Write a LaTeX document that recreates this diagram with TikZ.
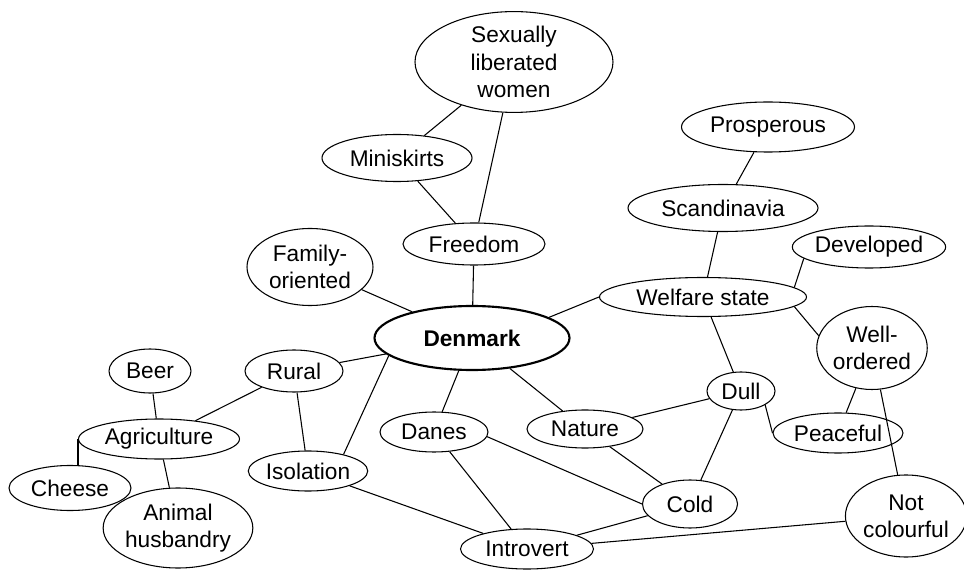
\documentclass[tikz,border=0pt]{standalone}
\usepackage{fontspec}
\setmainfont{Liberation Sans}
\usetikzlibrary{shapes.geometric}

\begin{document}
\begin{tikzpicture}[x=0.75pt, y=-0.75pt,
        concept/.style={ellipse, draw, line width=0.8pt, inner sep=0pt, align=center,
            font=\fontsize{17}{20.5}\selectfont},
        dims/.style 2 args={minimum width=#1*0.75pt, minimum height=#2*0.75pt},
        link/.style={line width=0.8pt}]
        \useasboundingbox (0,0) rectangle (964,570);

        % Centre
        \node[concept, dims={195}{64}, line width=1.6pt, font=\fontsize{17}{20.5}\selectfont\bfseries] (denmark) at (472,338) {Denmark};

        % Upper branch
        \node[concept, dims={198}{97}] (sexwomen) at (514,62) {Sexually\\liberated\\women};
        \node[concept, dims={150}{47}] (miniskirts) at (397,158) {Miniskirts};
        \node[concept, dims={142}{42}] (freedom) at (474,244) {Freedom};
        \node[concept, dims={126}{77}] (family) at (310,267) {Family-\\oriented};

        % Right branch
        \node[concept, dims={173}{50}] (prosperous) at (768,127) {Prosperous};
        \node[concept, dims={190}{47}] (scandinavia) at (723,208) {Scandinavia};
        \node[concept, dims={148}{42}] (developed) at (869,247) {Developed};
        \node[concept, dims={207}{39}] (welfare) at (703,297) {Welfare state};
        \node[concept, dims={98}{83}] (wellordered) at (872,348) {Well-\\ordered};
        \node[concept, dims={68}{38}] (dull) at (741,391) {Dull};
        \node[concept, dims={130}{40}] (peaceful) at (838,433) {Peaceful};
        \node[concept, dims={114}{82}] (notcolour) at (906,516) {Not\\colourful};

        % Lower branch
        \node[concept, dims={108}{40}] (danes) at (434,432) {Danes};
        \node[concept, dims={116}{38}] (nature) at (585,429) {Nature};
        \node[concept, dims={95}{48}] (cold) at (690,504) {Cold};
        \node[concept, dims={133}{40}] (introvert) at (527,549) {Introvert};

        % Left branch
        \node[concept, dims={82}{44}] (beer) at (150,371) {Beer};
        \node[concept, dims={98}{42}] (rural) at (294,371) {Rural};
        \node[concept, dims={161}{40}] (agriculture) at (159,439) {Agriculture};
        \node[concept, dims={110}{40}] (isolation) at (308,471) {Isolation};
        \node[concept, dims={122}{45}] (cheese) at (70,488) {Cheese};
        \node[concept, dims={130}{80}] (husbandry) at (178,528) {Animal\\husbandry};

        % Links
        \draw[link] (sexwomen) -- (miniskirts);
        \draw[link] (sexwomen) -- (freedom);
        \draw[link] (miniskirts) -- (freedom);
        \draw[link] (freedom) -- (denmark);
        \draw[link] (family) -- (denmark);
        \draw[link] (denmark) -- (rural);
        \draw[link] (denmark.192) -- (isolation.25);
        \draw[link] (denmark) -- (danes);
        \draw[link] (denmark) -- (nature);
        \draw[link] (denmark.15) -- (welfare.west);
        \draw[link] (prosperous) -- (scandinavia);
        \draw[link] (scandinavia) -- (welfare);
        \draw[link] (developed.190) -- (welfare.6);
        \draw[link] (welfare.-6) -- (wellordered.167);
        \draw[link] (welfare) -- (dull);
        \draw[link] (wellordered) -- (peaceful);
        \draw[link] (wellordered) -- (notcolour);
        \draw[link] (dull) -- (nature);
        \draw[link] (dull.-30) -- (peaceful.west);
        \draw[link] (dull) -- (cold);
        \draw[link] (nature) -- (cold);
        \draw[link] (danes.-5) -- (cold.west);
        \draw[link] (danes) -- (introvert);
        \draw[link] (cold) -- (introvert);
        \draw[link] (introvert) -- (notcolour);
        \draw[link] (isolation) -- (introvert);
        \draw[link] (rural) -- (isolation);
        \draw[link] (rural) -- (agriculture);
        \draw[link] (beer) -- (agriculture);
        \draw[link] (agriculture.west) -- (agriculture.west |- cheese.north); % straight down
        \draw[link] (agriculture) -- (husbandry);

    \end{tikzpicture}
\end{document}
